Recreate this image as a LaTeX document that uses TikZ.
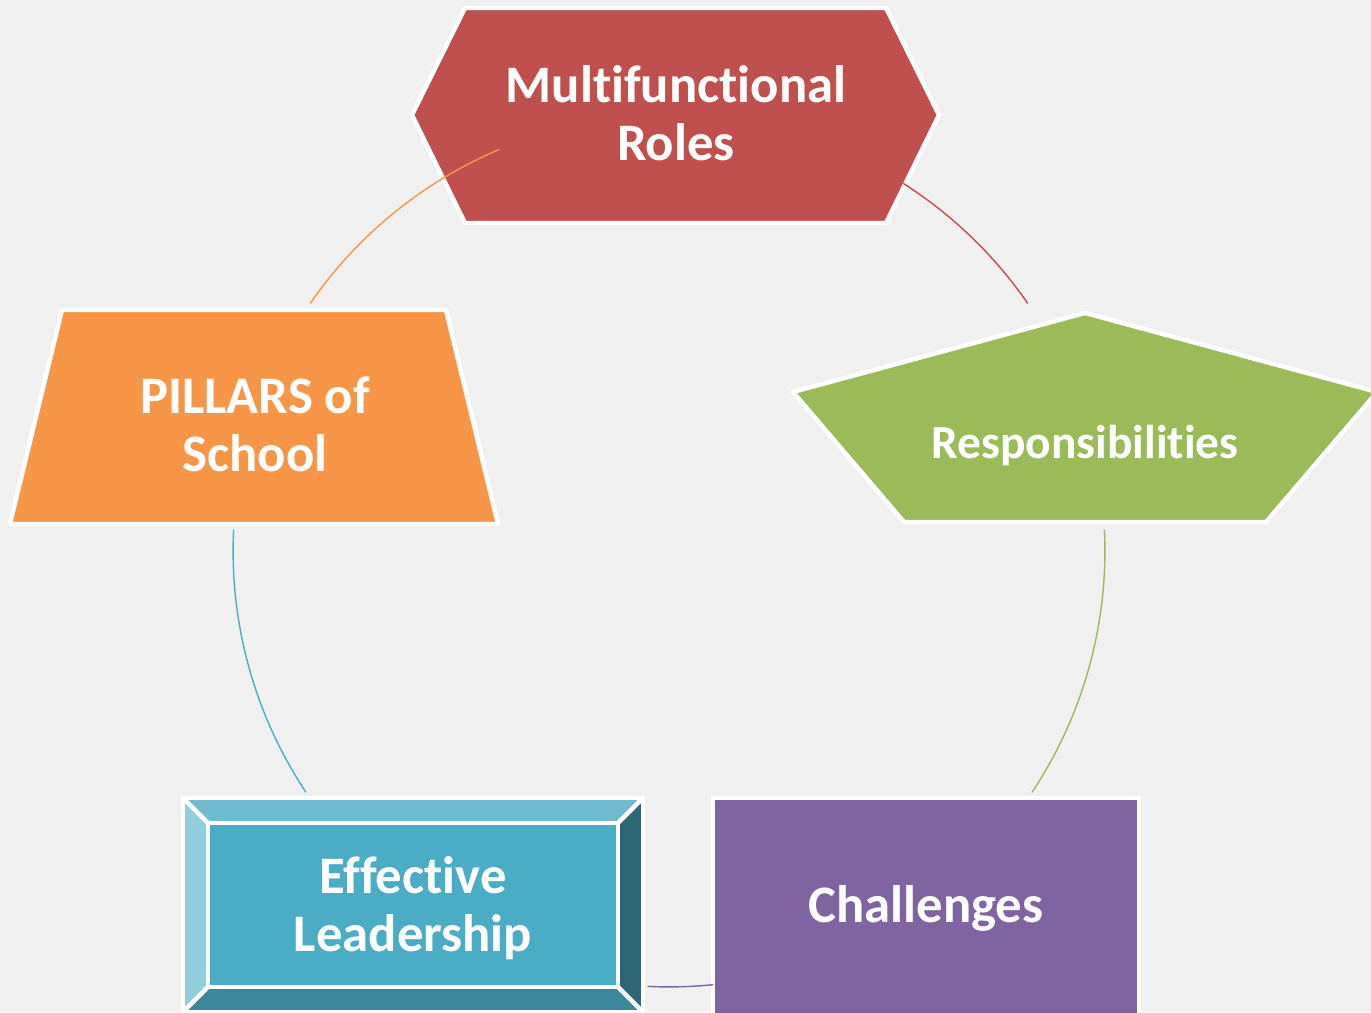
\documentclass[tikz,border=0pt]{standalone}
\usepackage{fontspec}
\setmainfont{Carlito}[Ligatures=NoCommon]
\usepackage{tikz}
\definecolor{bgcolor}{RGB}{240, 240, 240}
\definecolor{rolecolor}{RGB}{192, 80, 77}
\definecolor{dutycolor}{RGB}{155, 187, 89}
\definecolor{challcolor}{RGB}{128, 100, 162}
\definecolor{leadcolor}{RGB}{75, 172, 198}
\definecolor{pillarcolor}{RGB}{247, 150, 70}
\definecolor{bevtop}{RGB}{113, 187, 208}
\definecolor{bevleft}{RGB}{147, 205, 221}
\definecolor{bevright}{RGB}{45, 102, 118}
\definecolor{bevbottom}{RGB}{60, 136, 155}
\tikzset{
    cycle shape/.style={draw=white, line width=2.5pt, line join=round},
    cycle label/.style={text=white, align=center, font=\fontsize{30}{33}\selectfont\bfseries},
    small label/.style={cycle label, font=\fontsize{27}{30}\selectfont\bfseries},
    link/.style={line width=0.8pt}
}
\begin{document}
\begin{tikzpicture}[x=0.02cm, y=0.02cm]
\fill[bgcolor] (0,0) rectangle (1371,1012);
\clip (0,0) rectangle (1371,1012);
\coordinate (hub) at (669,461);
% shapes
\filldraw[cycle shape, fill=rolecolor] (465,1004) -- (886,1004) -- (939,897) -- (886,789) -- (465,789) -- (412,897) -- cycle;
\filldraw[cycle shape, fill=dutycolor] (1085,699) -- (1377,620) -- (1266,490) -- (904,490) -- (793,620) -- cycle;
\filldraw[cycle shape, fill=challcolor] (713,214) rectangle (1139,-20);
\filldraw[cycle shape, fill=pillarcolor] (62,702) -- (446,702) -- (498,488) -- (10,488) -- cycle;
% bevel box
\fill[bevtop] (183,214) -- (643,214) -- (618,189) -- (208,189) -- cycle;
\fill[bevleft] (183,214) -- (208,189) -- (208,25) -- (183,0) -- cycle;
\fill[bevright] (643,214) -- (643,0) -- (618,25) -- (618,189) -- cycle;
\fill[bevbottom] (183,0) -- (208,25) -- (618,25) -- (643,0) -- cycle;
\fill[leadcolor] (208,189) rectangle (618,25);
\draw[cycle shape] (183,214) rectangle (643,0);
\draw[cycle shape] (208,189) rectangle (618,25);
\draw[cycle shape] (183,214) -- (208,189) (643,214) -- (618,189)
    (183,0) -- (208,25) (643,0) -- (618,25);
% labels
\node[cycle label] (roles) at (676,899) {Multifunctional\\Roles};
\node[small label] (duties) at (1085,566) {Responsibilities};
\node[cycle label] (challenges) at (926,104) {Challenges};
\node[cycle label] (leadership) at (413,104) {Effective\\Leadership};
\node[cycle label] (pillars) at (255,588) {PILLARS of\\School};
% connectors
\draw[link, pillarcolor] ([shift={(145.4:8.72cm)}]hub) arc[start angle=145.4, end angle=112.9, radius=8.72cm];
\draw[link, rolecolor] ([shift={(57.5:8.72cm)}]hub) arc[start angle=57.5, end angle=34.6, radius=8.72cm];
\draw[link, dutycolor] ([shift={(2.8:8.72cm)}]hub) arc[start angle=2.8, end angle=-33.6, radius=8.72cm];
\draw[link, challcolor] ([shift={(-84.2:8.72cm)}]hub) arc[start angle=-84.2, end angle=-92.8, radius=8.72cm];
\draw[link, leadcolor] ([shift={(213.6:8.72cm)}]hub) arc[start angle=213.6, end angle=177.2, radius=8.72cm];
\end{tikzpicture}
\end{document}
